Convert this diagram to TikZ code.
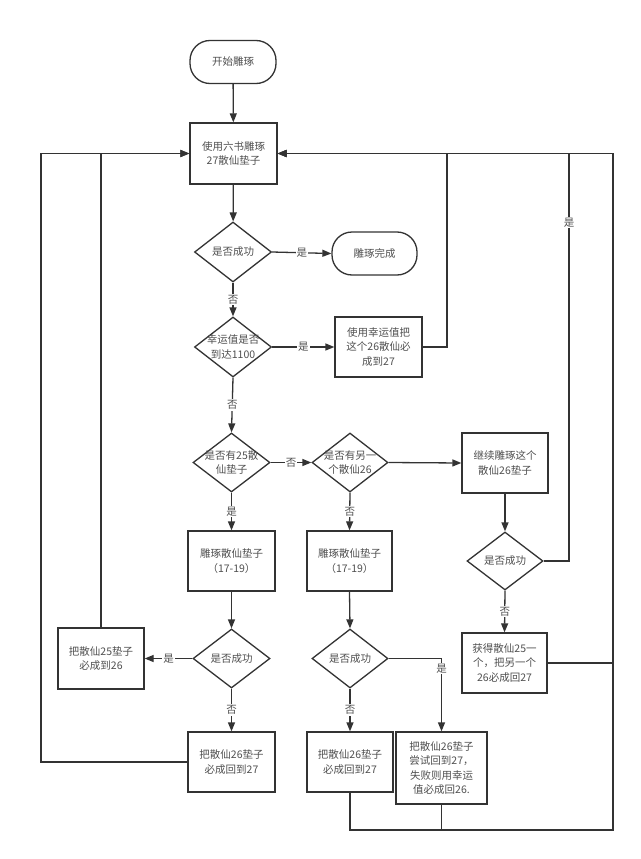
\documentclass[tikz,border=0pt]{standalone}
\usepackage{fontspec}
\setmainfont{Noto Sans CJK SC}
\usetikzlibrary{shapes.geometric,arrows.meta}
\definecolor{ln}{HTML}{333333}
\definecolor{tx}{HTML}{505050}
\tikzset{
  base/.style={draw=ln, line width=1.3pt, text=tx, align=center, inner sep=0pt,
    font=\fontsize{10.5}{14.5}\selectfont},
  term/.style={base, rectangle, rounded corners=20pt, minimum width=86pt, minimum height=43pt},
  proc/.style={base, rectangle, minimum width=87pt, minimum height=60pt},
  dec/.style={base, diamond, minimum width=77pt, minimum height=60pt},
  dtext/.style={text=tx, align=center, inner sep=0pt, font=\fontsize{10.5}{14.5}\selectfont},
  conn/.style={draw=ln, line width=1.3pt},
  arr/.style={conn, -{Triangle[length=9pt,width=7pt]}},
  lab/.style={fill=white, text=tx, inner sep=1pt, font=\fontsize{10.5}{12}\selectfont},
}
\begin{document}
\begin{tikzpicture}[x=1pt,y=-1pt]
\useasboundingbox[fill=white] (0,0) rectangle (640,859);
% nodes
\node[term] (start) at (233,62) {开始雕琢};
\node[proc, minimum height=61pt] (box1) at (233.5,153.5) {使用六书雕琢\\27散仙垫子};
\node[dec] (d1) at (233,252) {};
\node[dtext] at (d1) {是否成功};
\node[term, minimum width=85pt] (done) at (374.5,253.5) {雕琢完成};
\node[dec] (d2) at (233,347) {};
\node[dtext] at (d2) {幸运值是否\\到达1100};
\node[proc] (luck) at (378.5,347) {使用幸运值把\\这个26散仙必\\成到27};
\node[dec, minimum height=59pt] (d3) at (231.5,462.5) {};
\node[dtext] at (d3) {是否有25散\\仙垫子};
\node[dec, minimum width=76pt, minimum height=59pt] (d4) at (350,462.5) {};
\node[dtext] at (d4) {是否有另一\\个散仙26};
\node[proc, minimum width=86pt] (cont) at (505,463) {继续雕琢这个\\散仙26垫子};
\node[proc] (carve1) at (231.5,561) {雕琢散仙垫子\\（17-19）};
\node[proc, minimum width=85pt] (carve2) at (349.5,561) {雕琢散仙垫子\\（17-19）};
\node[dec, minimum width=76pt, minimum height=58pt] (d5) at (505,561) {};
\node[dtext] at (d5) {是否成功};
\node[proc, minimum width=85pt] (gain) at (504.5,663) {获得散仙25一\\个，把另一个\\26必成回27};
\node[dec, minimum height=59pt] (d6) at (231.5,658.5) {};
\node[dtext] at (d6) {是否成功};
\node[proc, minimum width=86pt, minimum height=61pt] (s25) at (101,658.5) {把散仙25垫子\\必成到26};
\node[proc] (fail1) at (231.5,762) {把散仙26垫子\\必成回到27};
\node[dec, minimum width=76pt, minimum height=59pt] (d7) at (350,658.5) {};
\node[dtext] at (d7) {是否成功};
\node[proc, minimum width=86pt] (fail2) at (350,762) {把散仙26垫子\\必成回到27};
\node[proc, minimum width=91pt, minimum height=72pt] (try) at (441.5,768) {把散仙26垫子\\尝试回到27，\\失败则用幸运\\值必成回26.};
% junction coordinates
\coordinate (jl) at (41,153.5);
\coordinate (jr1) at (447,153.5);
\coordinate (jr2) at (569,153.5);
\coordinate (jr3) at (613,153.5);
\coordinate (jb) at (613,830);
% connectors
\draw[arr] (start) -- (box1);
\draw[arr] (box1) -- (d1);
\draw[arr] (d1.east) -- node[lab]{是} (done.west);
\draw[arr] (d1.south) -- node[lab]{否} (d2.north);
\draw[arr] (d2.east) -- node[lab]{是} (luck.west);
\draw[arr] (d2.south) -- node[lab]{否} (d3.north);
\draw[arr] (luck.east) -| (jr1) -- (box1.east);
\draw[arr] (d3.east) -- node[lab]{否} (d4.west);
\draw[arr] (d4.east) -- (cont.west);
\draw[arr] (d3.south) -- node[lab]{是} (carve1.north);
\draw[arr] (d4.south) -- node[lab]{否} (carve2.north);
\draw[arr] (cont.south) -- (d5.north);
\draw[arr] (d5.east) -| node[lab, pos=0.915]{是} (jr2) -- (box1.east);
\draw[arr] (d5.south) -- node[lab]{否} (gain.north);
\draw[conn] (gain.east) -- (gain.east -| jb);
\draw[arr] (fail2.south) |- (jb) -- (jr3) -- (box1.east);
\draw[conn] (try.south) -- (try.south |- jb);
\draw[arr] (carve1.south) -- (d6.north);
\draw[arr] (d6.west) -- node[lab]{是} (s25.east);
\draw[arr] (s25.north) |- (box1.west);
\draw[arr] (d6.south) -- node[lab]{否} (fail1.north);
\draw[arr] (fail1.west) -| (jl) -- (box1.west);
\draw[arr] (carve2.south) -- (d7.north);
\draw[arr] (d7.south) -- node[lab]{否} (fail2.north);
\draw[arr] (d7.east) -| node[lab, pos=0.57]{是} (try.north);
\end{tikzpicture}
\end{document}
